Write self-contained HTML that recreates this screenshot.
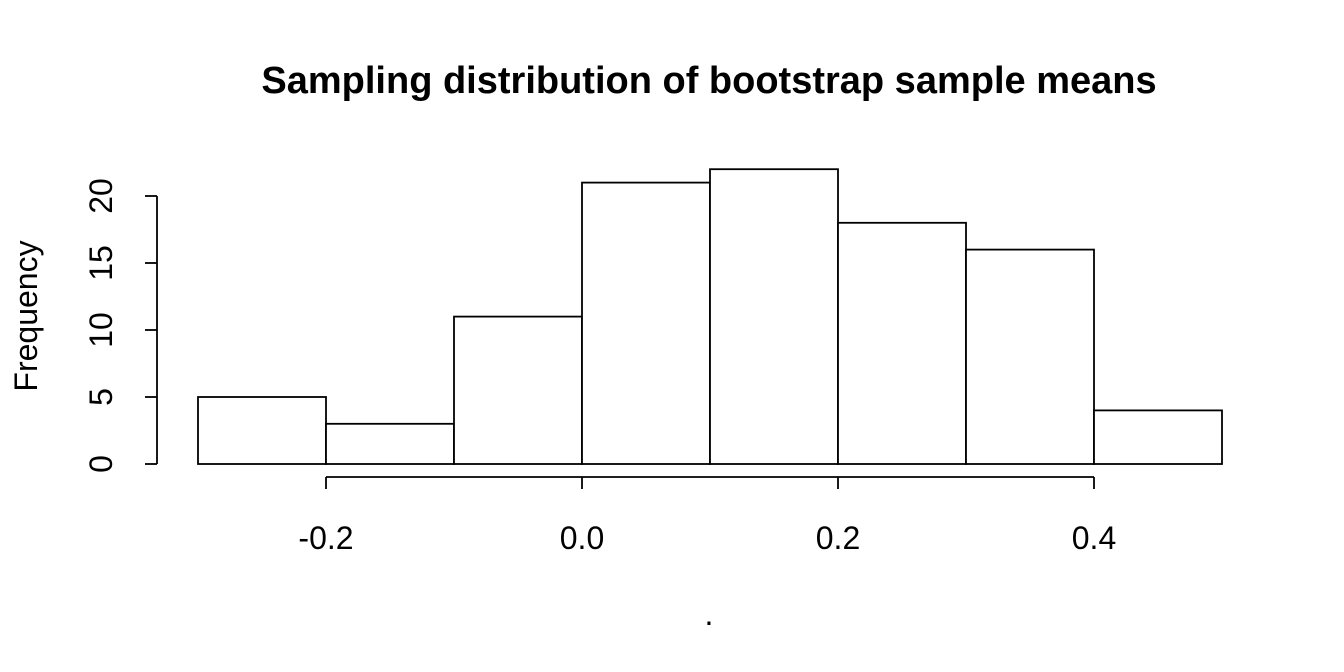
<!DOCTYPE html>
<html><head><meta charset="utf-8"><style>
html,body{margin:0;padding:0;background:#fff;}
svg{display:block;font-family:"Liberation Sans",Arial,sans-serif;}
</style></head><body>
<svg id="chart" width="1344" height="672" viewBox="0 0 1344 672">
<text x="709" y="93" text-anchor="middle" font-size="38" font-weight="bold">Sampling distribution of bootstrap sample means</text>
<text x="0" y="0" transform="translate(37,316) rotate(-90)" text-anchor="middle" font-size="32">Frequency</text>
<text x="709" y="625" text-anchor="middle" font-size="32">.</text>
<g id="bars"></g>
<g id="axes"></g>
</svg>
<script>
const binStarts = [-0.3,-0.2,-0.1,0.0,0.1,0.2,0.3,0.4];
const counts = [5,3,11,21,22,18,16,4];
const binWidth = 0.1;
const xTicks = [-0.2,0.0,0.2,0.4];
const xTickLabels = ["-0.2","0.0","0.2","0.4"];
const yTicks = [0,5,10,15,20];
const yTickLabels = ["0","5","10","15","20"];

const NS="http://www.w3.org/2000/svg";
const xs = v => 582 + v*1280;
const ys = v => 464 - v*13.4;
function mk(tag, attrs, parent){const e=document.createElementNS(NS,tag);for(const k in attrs)e.setAttribute(k,attrs[k]);parent.appendChild(e);return e;}
const bars=document.getElementById('bars'), axes=document.getElementById('axes');
binStarts.forEach((b,i)=>{
  const r=mk('rect',{x:xs(b),y:ys(counts[i]),width:xs(b+binWidth)-xs(b),height:ys(0)-ys(counts[i]),fill:'#fff',stroke:'#000','stroke-width':1.8},bars);
  
  
});
const xl=mk('line',{x1:xs(xTicks[0]),x2:xs(xTicks[xTicks.length-1]),y1:477,y2:477,stroke:'#000','stroke-width':1.8},axes);


xTicks.forEach((t,i)=>{
  const l=mk('line',{x1:xs(t),x2:xs(t),y1:477,y2:489,stroke:'#000','stroke-width':1.8},axes);
  
  
  const tx=mk('text',{x:xs(t),y:549,'text-anchor':'middle','font-size':32},axes);
  tx.textContent=xTickLabels[i];
  
  
});
const yl=mk('line',{x1:157,x2:157,y1:ys(yTicks[0]),y2:ys(yTicks[yTicks.length-1]),stroke:'#000','stroke-width':1.8},axes);


yTicks.forEach((t,i)=>{
  const l=mk('line',{x1:145,x2:157,y1:ys(t),y2:ys(t),stroke:'#000','stroke-width':1.8},axes);
  
  
  const tx=mk('text',{x:0,y:0,transform:`translate(112,${ys(t)}) rotate(-90)`,'text-anchor':'middle','font-size':32},axes);
  tx.textContent=yTickLabels[i];
  
  
});
</script>
</body></html>
